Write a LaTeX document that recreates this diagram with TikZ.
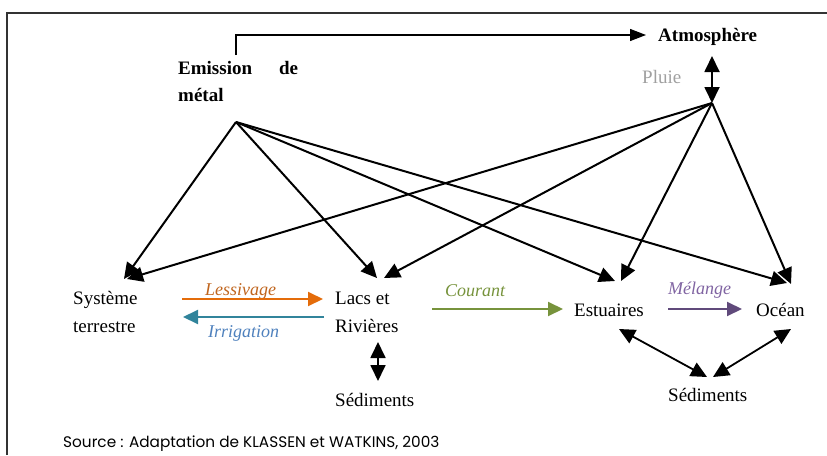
\documentclass[tikz,border=0pt]{standalone}
\usepackage{fontspec}
\setmainfont{Liberation Serif}
\newfontfamily\srcfont{Poppins}
\usetikzlibrary{arrows.meta}
\definecolor{lessarrow}{HTML}{E46C0A}
\definecolor{lesstext}{HTML}{C0651E}
\definecolor{irrarrow}{HTML}{31849B}
\definecolor{irrtext}{HTML}{4F81BD}
\definecolor{courgreen}{HTML}{77933C}
\definecolor{melarrow}{HTML}{604A7B}
\definecolor{meltext}{HTML}{8064A2}
\definecolor{pluiegray}{HTML}{A0A0A0}
\begin{document}
\begin{tikzpicture}[x=1pt,y=-1pt,
  lbl/.style={inner sep=0pt, anchor=base west, font=\fontsize{19}{22}\selectfont},
  blbl/.style={lbl, font=\fontsize{19}{22}\selectfont\bfseries},
  ilbl/.style={lbl, font=\fontsize{18}{22}\selectfont\itshape},
  bigtip/.style={-{Triangle[length=16pt,width=15pt]}},
  bothtip/.style={{Triangle[length=16pt,width=15pt]}-{Triangle[length=16pt,width=15pt]}},
  flow/.style={line width=2pt, bigtip},
  cflow/.style={line width=2pt, -{Triangle[length=15pt,width=14pt]}}]
\useasboundingbox (0,0) rectangle (827,455);
\draw[line width=1.8pt, black!80] (7,455) -- (7,13) -- (827,13);

% texts
\node[blbl] (atm) at (658,41) {Atmosphère};
\node[blbl] (emi) at (178,74) {Emission\hspace{27pt}de};
\node[blbl] (met) at (178,101) {métal};
\node[lbl, text=pluiegray] (plu) at (642,83) {Pluie};
\node[lbl] (sys1) at (73,304) {Système};
\node[lbl] (sys2) at (73,332) {terrestre};
\node[lbl] (lac1) at (335,304) {Lacs et};
\node[lbl] (lac2) at (335,332) {Rivières};
\node[lbl] (sedl) at (335,406) {Sédiments};
\node[lbl] (est) at (574,316) {Estuaires};
\node[lbl] (oce) at (756,316) {Océan};
\node[lbl] (sedr) at (668,401) {Sédiments};
\node[ilbl, text=lesstext] (les) at (205,295) {Lessivage};
\node[ilbl, text=irrtext] (irr) at (208,337) {Irrigation};
\node[ilbl, text=courgreen] (cou) at (445,296) {Courant};
\node[ilbl, text=meltext] (mel) at (668,294) {Mélange};
\node[inner sep=0pt, anchor=base west, font=\srcfont\fontsize{15.3}{18}\selectfont] (src) at (63,447) {Source : Adaptation de KLASSEN et WATKINS, 2003};

% junction and arrow end coordinates
\coordinate (em) at (236,122);
\coordinate (pl) at (712,103);
\coordinate (emtop) at (236,55);
\coordinate (emcorner) at (236,35);
\coordinate (atmin) at (646,35);
\coordinate (plup) at (712,56);
\coordinate (sysA) at (124,279);
\coordinate (sysB) at (127,279);
\coordinate (lacA) at (377,278);
\coordinate (lacB) at (384,278);
\coordinate (estA) at (615,281);
\coordinate (estB) at (621,281);
\coordinate (oceA) at (787,283);
\coordinate (oceB) at (791,284);
\coordinate (lesS) at (182,299);
\coordinate (lesE) at (323,299);
\coordinate (irrS) at (324,317);
\coordinate (irrE) at (183,317);
\coordinate (couS) at (432,309);
\coordinate (couE) at (563,309);
\coordinate (melS) at (668,309);
\coordinate (melE) at (742,309);
\coordinate (lacD1) at (378,342);
\coordinate (lacD2) at (378,381);
\coordinate (estD) at (619,329);
\coordinate (sedA) at (707,377);
\coordinate (oceD) at (791,329);
\coordinate (sedB) at (713,377);

% emission to atmosphere
\draw[line width=1.3pt, -{Triangle[length=16pt,width=12pt]}] (emtop) -- (emcorner) -- (atmin);
% pluie double arrow
\draw[line width=1.8pt, bothtip] (plup) -- (pl);

% emission lines
\draw[flow] (em) -- (sysA);
\draw[flow] (em) -- (lacA);
\draw[flow] (em) -- (estA);
\draw[flow] (em) -- (oceA);
% pluie lines
\draw[flow] (pl) -- (sysB);
\draw[flow] (pl) -- (lacB);
\draw[flow] (pl) -- (estB);
\draw[flow] (pl) -- (oceB);

% coloured flows
\draw[cflow, lessarrow] (lesS) -- (lesE);
\draw[cflow, irrarrow] (irrS) -- (irrE);
\draw[cflow, courgreen] (couS) -- (couE);
\draw[cflow, melarrow] (melS) -- (melE);

% sediments
\draw[line width=1.8pt, bothtip] (lacD1) -- (lacD2);
\draw[line width=1.8pt, bothtip] (estD) -- (sedA);
\draw[line width=1.8pt, bothtip] (oceD) -- (sedB);
\end{tikzpicture}
\end{document}
